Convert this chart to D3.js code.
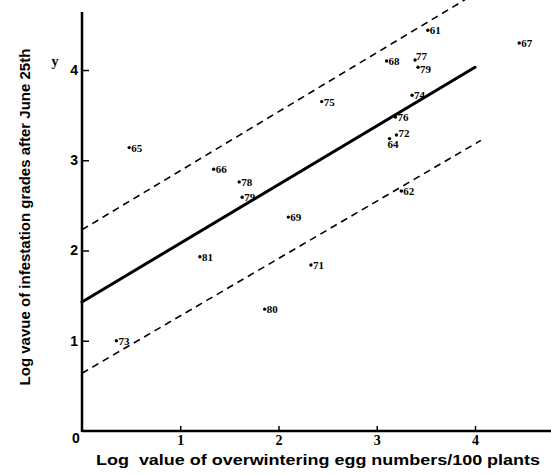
<!DOCTYPE html>
<html>
<head>
<meta charset="utf-8">
<script src="https://cdn.jsdelivr.net/npm/d3@7"></script>
<style>
  body { margin: 0; background: #fff; }
  svg { display: block; }
</style>
</head>
<body>
<svg id="chart" width="551" height="475"></svg>
<script>
// --- data ---
const years = ["65", "66", "78", "79", "61", "67", "68", "77", "79", "75", "74", "76", "72", "64", "62", "69", "81", "80", "73", "71"];
const eggLog = [0.48, 1.34, 1.60, 1.63, 3.52, 4.45, 3.10, 3.39, 3.42, 2.44, 3.36, 3.19, 3.20, 3.13, 3.25, 2.10, 1.20, 1.86, 0.35, 2.33];
const gradeLog = [3.14, 2.90, 2.76, 2.59, 4.44, 4.30, 4.10, 4.11, 4.03, 3.65, 3.72, 3.48, 3.28, 3.24, 2.66, 2.37, 1.93, 1.35, 1.00, 1.84];

const regLine = [[0, 1.43], [4.0, 4.03]];
const upperLine = [[0, 2.23], [3.9, 4.78]];
const lowerLine = [[0, 0.64], [4.06, 3.22]];

const xTicks = [1, 2, 3, 4];
const yTicks = [1, 2, 3, 4];

const size = { w: 551, h: 475 };
const svg = d3.select("#chart");

let xScale = d3.scaleLinear().domain([0, 4]).range([82, 475]);
let yScale = d3.scaleLinear().domain([0, 4]).range([431, 70]);

const points = years.map((d, i) => ({ year: d, x: eggLog[i], y: gradeLog[i], i: i }));

// labels that sit crowded in the scan get nudged a bit
const nudge = { 7: [1, 0], 8: [2, 6], 13: [-2, 9], 12: [2, 2] };

// axes
let xAxis = d3.axisBottom(xScale).tickValues(xTicks).tickSize(-5).tickFormat(d3.format("d"));
let xG = svg.append("g")
	.attr("transform", `translate(0, ${yScale(0)})`)
	.call(xAxis);
xG.select(".domain").remove();
xG.selectAll(".tick line").attr("stroke", "#000").attr("stroke-width", 1.5);
xG.selectAll(".tick text")
	.attr("y", 4)
	.attr("font-family", "Liberation Serif, serif")
	.attr("font-weight", "bold")
	.attr("font-size", 14)
	.attr("fill", "#000");

let yAxis = d3.axisLeft(yScale).tickValues(yTicks).tickSize(-7).tickFormat(d3.format("d"));
let yG = svg.append("g")
	.attr("transform", `translate(${xScale(0)}, 0)`)
	.call(yAxis);
yG.select(".domain").remove();
yG.selectAll(".tick line").attr("stroke", "#000").attr("stroke-width", 1.5);
yG.selectAll(".tick text")
	.attr("x", -4)
	.attr("font-family", "Liberation Sans, Arial, sans-serif")
	.attr("font-weight", "bold")
	.attr("font-size", 14)
	.attr("fill", "#000");

svg.append("line")
	.attr("x1", xScale(0)).attr("x2", size.w)
	.attr("y1", yScale(0)).attr("y2", yScale(0))
	.attr("stroke", "#000").attr("stroke-width", 2.5);
svg.append("line")
	.attr("x1", xScale(0)).attr("x2", xScale(0))
	.attr("y1", 12).attr("y2", yScale(0) + 1)
	.attr("stroke", "#000").attr("stroke-width", 2.5);

svg.append("text")
	.attr("x", 76).attr("y", yScale(0) + 12)
	.attr("text-anchor", "middle")
	.attr("font-family", "Liberation Sans, Arial, sans-serif")
	.attr("font-weight", "bold").attr("font-size", 14)
	.text("0");

svg.append("text")
	.attr("x", 55).attr("y", 66)
	.attr("text-anchor", "middle")
	.attr("font-family", "Liberation Serif, serif")
	.attr("font-weight", "bold").attr("font-size", 14)
	.text("y");

// regression + confidence band
let line = d3.line().x((d) => xScale(d[0])).y((d) => yScale(d[1]));
svg.append("path")
	.attr("d", line(regLine))
	.attr("fill", "none").attr("stroke", "#000")
	.attr("stroke-width", 3).attr("stroke-linecap", "round");
[upperLine, lowerLine].forEach((l) => {
	svg.append("path")
		.attr("d", line(l))
		.attr("fill", "none").attr("stroke", "#000")
		.attr("stroke-width", 1.6).attr("stroke-dasharray", "7,5");
});

// points with year labels
let ptG = svg.append("g")
	.selectAll("g")
	.data(points)
	.join("g")
	.attr("transform", (d) => `translate(${xScale(d.x)}, ${yScale(d.y)})`);
ptG.append("circle").attr("r", 1.7).attr("fill", "#000");
ptG.append("text")
	.attr("x", (d) => (nudge[d.i] ? nudge[d.i][0] : 2))
	.attr("y", (d) => (nudge[d.i] ? nudge[d.i][1] : 4))
	.attr("font-family", "Liberation Serif, serif")
	.attr("font-weight", "bold")
	.attr("font-size", 11)
	.attr("fill", "#000")
	.text((d) => d.year);

// axis titles
svg.append("text")
	.attr("x", 318).attr("y", 465)
	.attr("text-anchor", "middle")
	.attr("font-family", "Liberation Sans, Arial, sans-serif")
	.attr("font-weight", "bold").attr("font-size", 15)
	.attr("textLength", 444)
	.attr("lengthAdjust", "spacingAndGlyphs")
	.attr("xml:space", "preserve")
	.text("Log  value of overwintering egg numbers/100 plants");

svg.append("text")
	.attr("transform", "translate(30, 217) rotate(-90)")
	.attr("text-anchor", "middle")
	.attr("font-family", "Liberation Sans, Arial, sans-serif")
	.attr("font-weight", "bold").attr("font-size", 15)
	.text("Log vavue of infestation grades after June 25th");
</script>
</body>
</html>
